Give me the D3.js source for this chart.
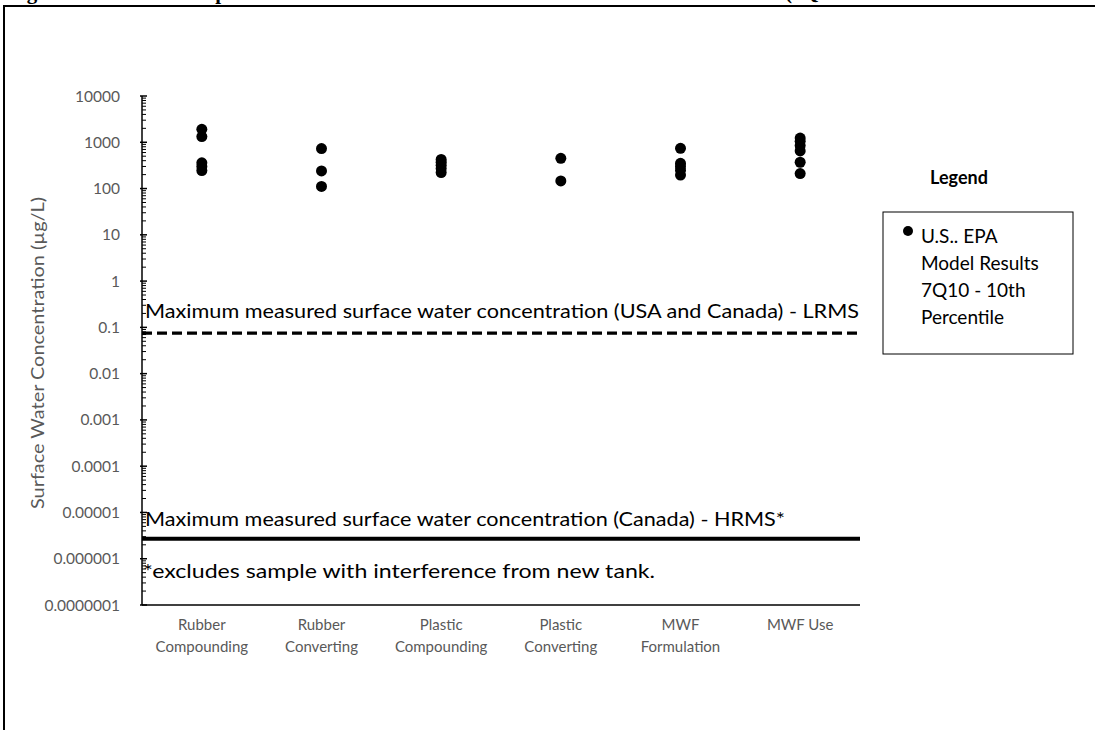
<!DOCTYPE html>
<html>
<head>
<meta charset="utf-8">
<script src="https://cdn.jsdelivr.net/npm/d3@7"></script>
<style>
  html, body { margin: 0; padding: 0; background: #fff; }
  svg { display: block; }
  text { font-family: Lato, "Open Sans", sans-serif; }
</style>
</head>
<body>
<svg id="chart" width="1095" height="730"></svg>
<script>
// Exposure scenarios along the x axis
const categories = [
  ["Rubber", "Compounding"],
  ["Rubber", "Converting"],
  ["Plastic", "Compounding"],
  ["Plastic", "Converting"],
  ["MWF", "Formulation"],
  ["MWF Use"]
];

// Modeled surface water concentrations (µg/L), 7Q10 - 10th percentile, per scenario
const rubberCompounding = [1900, 1330, 360, 300, 245];
const rubberConverting  = [730, 240, 111];
const plasticCompounding = [425, 370, 320, 270, 222];
const plasticConverting = [450, 146];
const mwfFormulation    = [740, 350, 300, 250, 195];
const mwfUse            = [1230, 1050, 850, 650, 370, 211];
const seriesValues = [rubberCompounding, rubberConverting, plasticCompounding,
                      plasticConverting, mwfFormulation, mwfUse];

// Measured maxima drawn as horizontal reference lines (µg/L)
const measuredLRMS = 0.075;
const measuredHRMS = 0.0000027;

// Log axis decades and their labels
const tickValues = [1e-7, 1e-6, 1e-5, 1e-4, 1e-3, 1e-2, 1e-1, 1, 10, 100, 1000, 10000];
const tickLabels = ["0.0000001", "0.000001", "0.00001", "0.0001", "0.001", "0.01",
                    "0.1", "1", "10", "100", "1000", "10000"];

const svg = d3.select("#chart");

// Page frame with the figure caption running off the top edge
svg.append("path")
  .attr("d", "M4,740 L4,6 L1100,6")
  .attr("fill", "none").attr("stroke", "#000").attr("stroke-width", 2);

const caption = svg.append("text")
  .attr("y", -1.5)
  .style("font-family", "'Liberation Serif', 'DejaVu Serif', serif")
  .style("font-weight", "bold").style("font-size", "21px").attr("fill", "#000");
caption.append("tspan").attr("x", 8).text("Figure 4.");
caption.append("tspan").attr("x", 172).text("Comparison of Modeled and Measured Surface Water Concentrations");
caption.append("tspan").attr("x", 785).text("(7Q10 Model Results");

// Plot area
const plotLeft = 142, plotRight = 860, plotTop = 96, plotBottom = 605;

const x = d3.scaleBand().domain(d3.range(categories.length)).range([plotLeft, plotRight]);
const y = d3.scaleLog().domain([1e-7, 1e4]).range([plotBottom, plotTop]);

// Y axis with major (crossing) and minor (inside) ticks
const minorTicks = [];
for (let e = -7; e < 4; e++) {
  for (let m = 2; m <= 9; m++) minorTicks.push(m * Math.pow(10, e));
}
const yAxis = svg.append("g").attr("transform", `translate(${plotLeft},0)`);
yAxis.append("line").attr("x1", 0).attr("x2", 0).attr("y1", plotTop).attr("y2", plotBottom)
  .attr("stroke", "#000").attr("stroke-width", 1.5);
yAxis.selectAll("line.minor").data(minorTicks).join("line")
  .attr("class", "minor")
  .attr("x1", 0).attr("x2", 4)
  .attr("y1", d => y(d)).attr("y2", d => y(d))
  .attr("stroke", "#000").attr("stroke-width", 1);
yAxis.selectAll("line.major").data(tickValues).join("line")
  .attr("class", "major")
  .attr("x1", -2).attr("x2", 5)
  .attr("y1", d => y(d)).attr("y2", d => y(d))
  .attr("stroke", "#000").attr("stroke-width", 1.5);
yAxis.selectAll("text.tick").data(tickValues).join("text")
  .attr("class", "tick")
  .attr("x", -22).attr("y", d => y(d)).attr("dy", "0.36em")
  .attr("text-anchor", "end")
  .attr("fill", "#595959").style("font-size", "15.5px")
  .text((d, i) => tickLabels[i]);

// X axis baseline and category labels
svg.append("line")
  .attr("x1", plotLeft).attr("x2", plotRight).attr("y1", plotBottom).attr("y2", plotBottom)
  .attr("stroke", "#000").attr("stroke-width", 1.5);
const catLabels = svg.append("g").selectAll("text").data(categories).join("text")
  .attr("x", (d, i) => x(i) + x.bandwidth() / 2)
  .attr("y", 630)
  .attr("text-anchor", "middle")
  .attr("fill", "#595959").style("font-size", "15px");
catLabels.selectAll("tspan").data(d => d).join("tspan")
  .attr("x", function () { return this.parentNode.getAttribute("x"); })
  .attr("dy", (d, i) => i === 0 ? 0 : 22)
  .text(d => d);

// Y axis title
svg.append("text")
  .attr("transform", "translate(44,353) rotate(-90)")
  .attr("text-anchor", "middle")
  .attr("fill", "#595959").style("font-size", "17px")
  .attr("textLength", 312).attr("lengthAdjust", "spacingAndGlyphs")
  .text("Surface Water Concentration (µg/L)");

// Reference lines for measured maxima
svg.append("line")
  .attr("x1", plotLeft).attr("x2", plotRight)
  .attr("y1", y(measuredLRMS)).attr("y2", y(measuredLRMS))
  .attr("stroke", "#000").attr("stroke-width", 3.2)
  .attr("stroke-dasharray", "10,5");
svg.append("line")
  .attr("x1", plotLeft).attr("x2", plotRight)
  .attr("y1", y(measuredHRMS)).attr("y2", y(measuredHRMS))
  .attr("stroke", "#000").attr("stroke-width", 4);

svg.append("text")
  .attr("x", 145).attr("y", y(measuredLRMS) - 15)
  .attr("fill", "#000").style("font-size", "19px")
  .attr("textLength", 714).attr("lengthAdjust", "spacingAndGlyphs")
  .text("Maximum measured surface water concentration (USA and Canada) - LRMS");
svg.append("text")
  .attr("x", 145).attr("y", y(measuredHRMS) - 13)
  .attr("fill", "#000").style("font-size", "19px")
  .attr("textLength", 640).attr("lengthAdjust", "spacingAndGlyphs")
  .text("Maximum measured surface water concentration (Canada) - HRMS*");
svg.append("text")
  .attr("x", 143).attr("y", 578)
  .attr("fill", "#000").style("font-size", "19px")
  .attr("textLength", 512).attr("lengthAdjust", "spacingAndGlyphs")
  .text("*excludes sample with interference from new tank.");

// Model result points
const points = seriesValues.flatMap((vals, i) => vals.map(v => ({ i, v })));
svg.append("g").selectAll("circle").data(points).join("circle")
  .attr("cx", d => x(d.i) + x.bandwidth() / 2)
  .attr("cy", d => y(d.v))
  .attr("r", 5.5)
  .attr("fill", "#000");

// Legend
svg.append("text")
  .attr("x", 959).attr("y", 184)
  .attr("text-anchor", "middle")
  .attr("fill", "#000").style("font-size", "18px").style("font-weight", "bold")
  .text("Legend");
svg.append("rect")
  .attr("x", 883).attr("y", 212).attr("width", 190).attr("height", 142)
  .attr("fill", "#fff").attr("stroke", "#000").attr("stroke-width", 1);
svg.append("circle").attr("cx", 908).attr("cy", 231).attr("r", 5).attr("fill", "#000");
const legendLines = ["U.S.. EPA", "Model Results", "7Q10 - 10th", "Percentile"];
svg.append("g").selectAll("text").data(legendLines).join("text")
  .attr("x", 921).attr("y", (d, i) => 243 + i * 27)
  .attr("fill", "#000").style("font-size", "19px")
  .text(d => d);
</script>
</body>
</html>
